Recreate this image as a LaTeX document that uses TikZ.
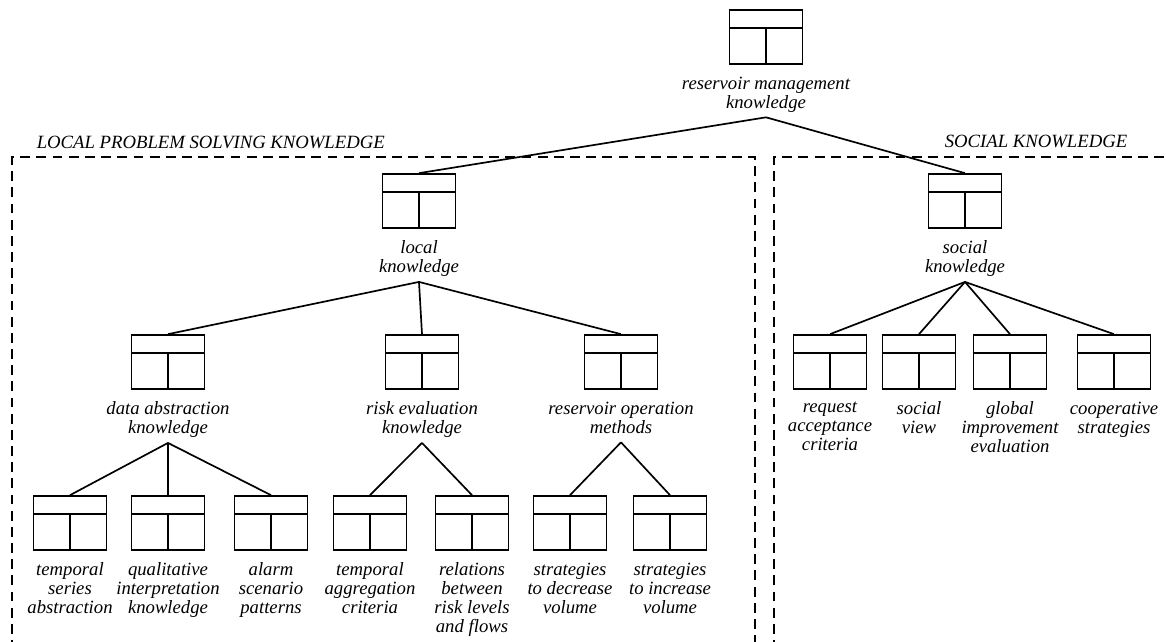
\documentclass[tikz,border=0pt]{standalone}
\usepackage{fontspec}
\setmainfont{Liberation Serif}
\usetikzlibrary{positioning}

\begin{document}
\begin{tikzpicture}[
    x=0.025cm, y=-0.025cm,
    node distance=1.5mm,
    line width=1.2pt,
    frame/.style={dash pattern=on 7pt off 4.5pt},
    icon/.style={draw, minimum width=1.825cm, minimum height=1.35cm, inner sep=0pt,
      path picture={
        \draw ([yshift=-0.45cm]path picture bounding box.north west) -- ([yshift=-0.45cm]path picture bounding box.north east);
        \draw (path picture bounding box.south) -- ([yshift=-0.45cm]path picture bounding box.north);
      }},
    tag/.style={align=center, inner sep=0pt, outer xsep=0pt, outer ysep=1.5mm, text depth=0.22em,
      font=\fontsize{13.3}{13.5}\selectfont\itshape},
    group/.style={inner sep=0pt, font=\fontsize{13.3}{13.5}\selectfont\itshape},
    link/.style={line width=1.2pt}
  ]
    \useasboundingbox (0,0) rectangle (1166,641);

    % knowledge areas
    \draw[frame] (12,650) |- (755,157) -- (755,650);
    \draw[frame] (774,650) |- (1170,157);
    \node[group, anchor=west] (lpsk) at (36,142) {LOCAL PROBLEM SOLVING KNOWLEDGE};
    \node[group, anchor=west] (sock) at (944,141) {SOCIAL KNOWLEDGE};

    % top
    \node[icon] (rmk) at (766,37) {};
    \node[tag, below=of rmk] (rmk-t) {reservoir management\\knowledge};

    % second level
    \node[icon] (lk) at (419,201) {};
    \node[tag, below=of lk] (lk-t) {local\\knowledge};
    \node[icon] (sk) at (965,201) {};
    \node[tag, below=of sk] (sk-t) {social\\knowledge};

    % local knowledge
    \node[icon] (dak) at (168,362) {};
    \node[tag, below=of dak] (dak-t) {data abstraction\\knowledge};
    \node[icon] (rek) at (422,362) {};
    \node[tag, below=of rek] (rek-t) {risk evaluation\\knowledge};
    \node[icon] (rom) at (621,362) {};
    \node[tag, below=of rom] (rom-t) {reservoir operation\\methods};

    \node[icon] (tsa) at (70,523) {};
    \node[tag, below=of tsa] (tsa-t) {temporal\\series\\abstraction};
    \node[icon] (qik) at (168,523) {};
    \node[tag, below=of qik] (qik-t) {qualitative\\interpretation\\knowledge};
    \node[icon] (asp) at (271,523) {};
    \node[tag, below=of asp] (asp-t) {alarm\\scenario\\patterns};
    \node[icon] (tac) at (370,523) {};
    \node[tag, below=of tac] (tac-t) {temporal\\aggregation\\criteria};
    \node[icon] (rlf) at (472,523) {};
    \node[tag, below=of rlf] (rlf-t) {relations\\between\\risk levels\\and flows};
    \node[icon] (sdv) at (570,523) {};
    \node[tag, below=of sdv] (sdv-t) {strategies\\to decrease\\volume};
    \node[icon] (siv) at (670,523) {};
    \node[tag, below=of siv] (siv-t) {strategies\\to increase\\volume};

    % social knowledge
    \node[icon] (rac) at (830,362) {};
    \node[tag, below=of rac] (rac-t) {request\\acceptance\\criteria};
    \node[icon] (sv) at (919,362) {};
    \node[tag, below=of sv] (sv-t) {social\\view};
    \node[icon] (gie) at (1010,362) {};
    \node[tag, below=of gie] (gie-t) {global\\improvement\\evaluation};
    \node[icon] (cs) at (1114,362) {};
    \node[tag, below=of cs] (cs-t) {cooperative\\strategies};

    \draw[link] (rmk-t.south) -- (lk.north);
    \draw[link] (rmk-t.south) -- (sk.north);
    \draw[link] (lk-t.south) -- (dak.north);
    \draw[link] (lk-t.south) -- (rek.north);
    \draw[link] (lk-t.south) -- (rom.north);
    \draw[link] (dak-t.south) -- (tsa.north);
    \draw[link] (dak-t.south) -- (qik.north);
    \draw[link] (dak-t.south) -- (asp.north);
    \draw[link] (rek-t.south) -- (tac.north);
    \draw[link] (rek-t.south) -- (rlf.north);
    \draw[link] (rom-t.south) -- (sdv.north);
    \draw[link] (rom-t.south) -- (siv.north);
    \draw[link] (sk-t.south) -- (rac.north);
    \draw[link] (sk-t.south) -- (sv.north);
    \draw[link] (sk-t.south) -- (gie.north);
    \draw[link] (sk-t.south) -- (cs.north);
  \end{tikzpicture}
\end{document}
